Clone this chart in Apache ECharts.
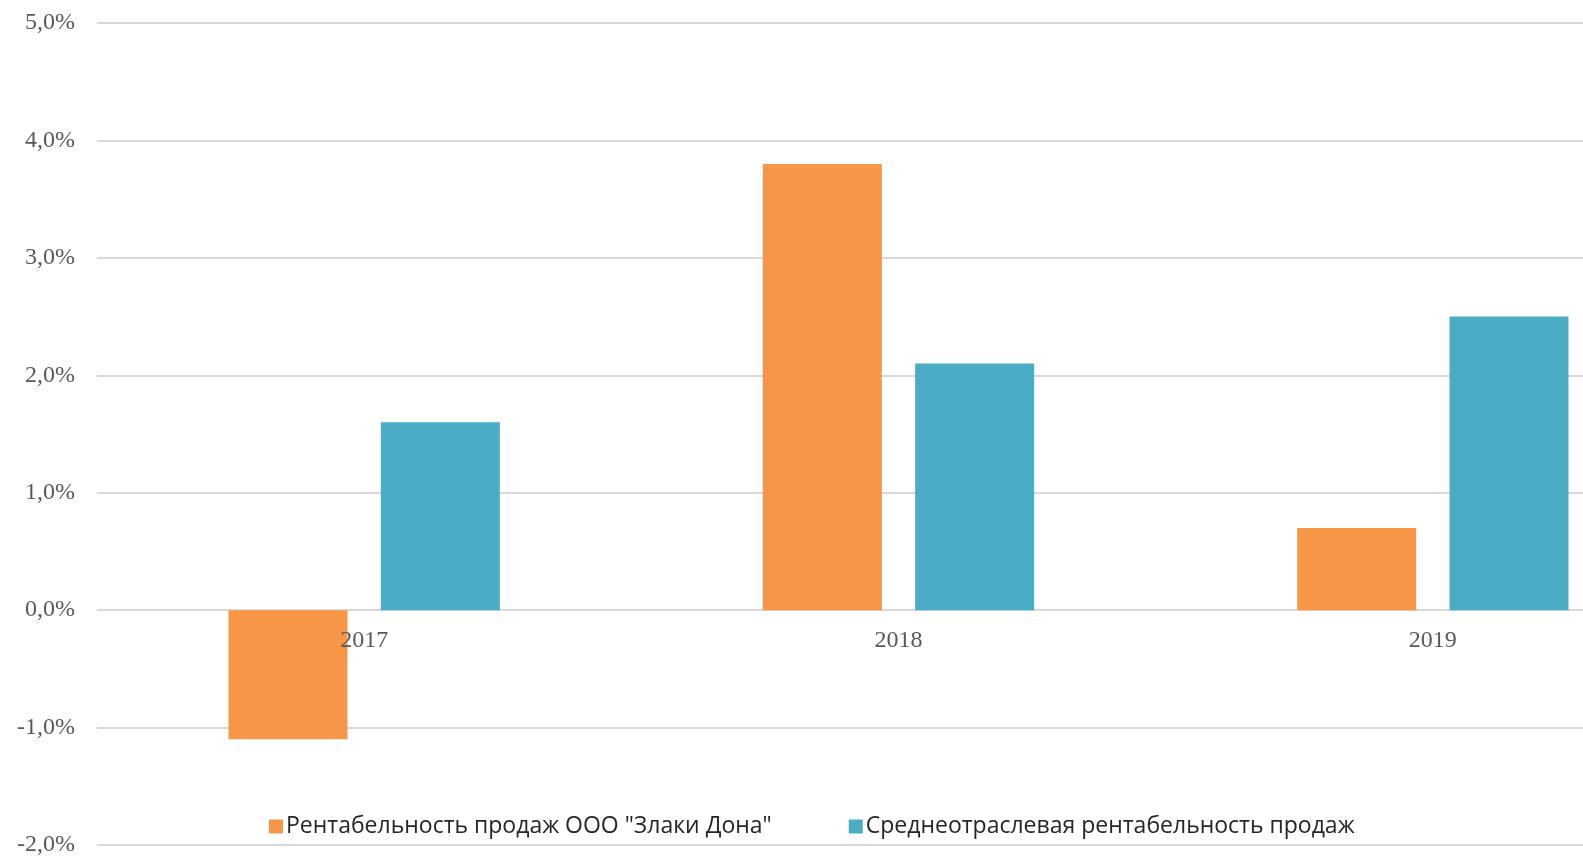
<!DOCTYPE html>
<html><head><meta charset="utf-8">
<script src="https://cdn.jsdelivr.net/npm/echarts@6/dist/echarts.min.js"></script>
<style>html,body{margin:0;padding:0;background:#fff;overflow:hidden;width:100%;height:100%}#c{width:100vw;height:100vh}</style>
</head><body><div id="c"></div>
<script>
const categories = ['2017', '2018', '2019'];
const seriesNames = ['Рентабельность продаж ООО "Злаки Дона"', 'Среднеотраслевая рентабельность продаж'];
const companyValues = [-1.1, 3.8, 0.7];
const industryValues = [1.6, 2.1, 2.5];

const chart = echarts.init(document.getElementById('c'));
const H = chart.getHeight();
const gTop = 23, gBottom = 18;
const gridH = H - gTop - gBottom;
chart.setOption({
  animation: false,
  backgroundColor: '#fff',
  grid: {left: 97, top: gTop, bottom: gBottom, right: -117, containLabel: false, outerBoundsMode: 'none'},
  legend: {
    left: 264, top: 810, itemWidth: 14, itemHeight: 14, itemGap: 77, icon: 'rect',
    textStyle: {fontFamily: 'Open Sans', fontSize: 23, color: '#262626', padding: [0,0,0,-2]},
    data: seriesNames
  },
  xAxis: {
    type: 'category', data: categories, z: 5, position: 'bottom', offset: -gridH * 2 / 7,
    axisLine: {show: false},
    axisTick: {show: false},
    axisLabel: {fontFamily: 'Liberation Serif', fontSize: 24, color: '#595959', margin: 19}
  },
  yAxis: {
    type: 'value', min: -2, max: 5, interval: 1,
    axisLine: {show: false}, axisTick: {show: false},
    splitLine: {lineStyle: {color: '#d9d9d9', width: 2}},
    axisLabel: {fontFamily: 'Liberation Serif', fontSize: 24, color: '#595959', margin: 22,
      formatter: v => v.toFixed(1).replace('.', ',') + '%'}
  },
  series: [
    {name: seriesNames[0], type: 'bar', data: companyValues, barWidth: 119, barGap: '28%', itemStyle: {color: '#F79646'}},
    {name: seriesNames[1], type: 'bar', data: industryValues, barWidth: 119, barGap: '28%', itemStyle: {color: '#4BACC6'}}
  ]
});
</script></body></html>
